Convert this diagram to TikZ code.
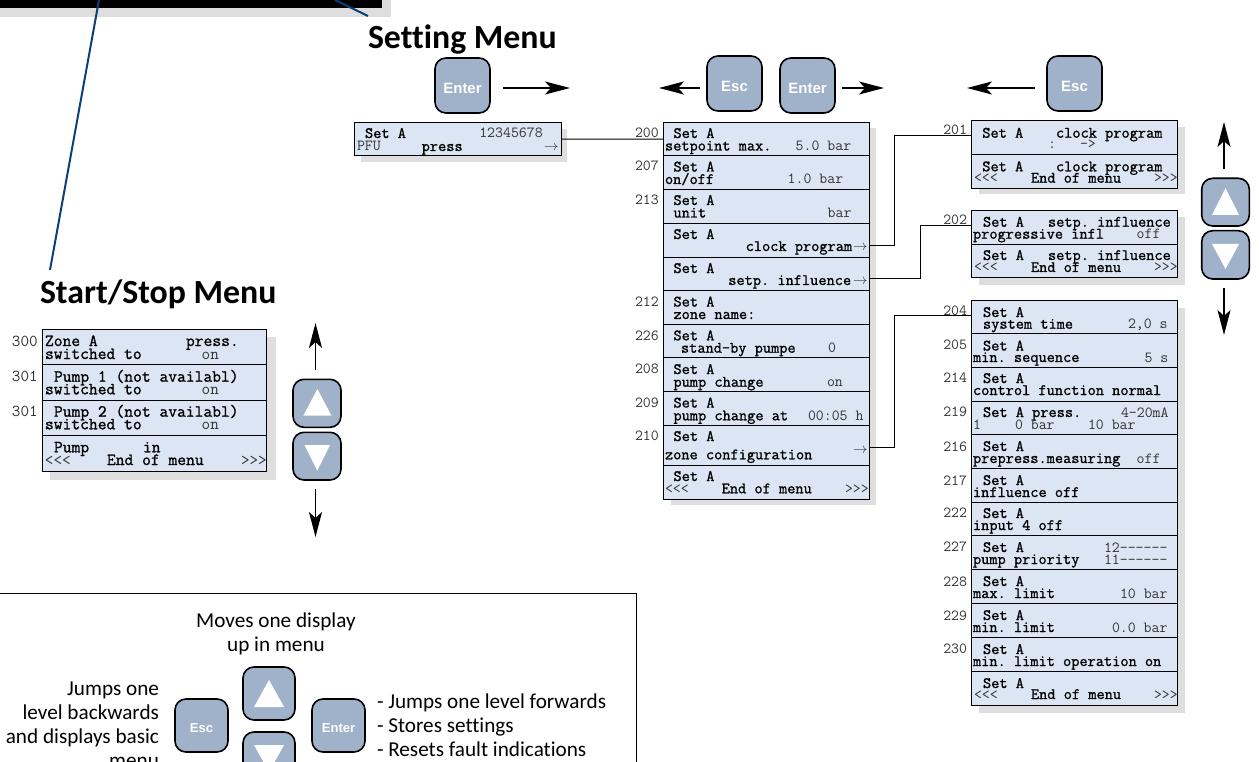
\documentclass[tikz,border=0pt]{standalone}
\usepackage{fontspec}
\usetikzlibrary{arrows.meta}
\newfontfamily\labfont[Ligatures=CommonOff]{Carlito}
\newfontfamily\keyfont{Liberation Sans}
\newfontfamily\monoheavy[FakeBold=1.1]{Latin Modern Mono}
\definecolor{cellfill}{HTML}{DCE5F3}
\definecolor{shadowc}{HTML}{DEDEDE}
\definecolor{keyfill}{HTML}{A0B1CA}
\definecolor{graytxt}{HTML}{333333}
\definecolor{bluel}{HTML}{0B3F77}
\newcounter{tc}
\tikzset{
  txt/.style={inner sep=0pt,outer sep=0pt,anchor=base west},
  monob/.style={txt,font=\fontsize{15.9}{15.9}\selectfont\monoheavy,text=black},
  monog/.style={txt,font=\fontsize{15.4}{15.4}\selectfont\ttfamily,text=graytxt},
  monobl/.style={txt,font=\fontsize{17.07}{17.07}\selectfont\monoheavy,text=black},
  monogl/.style={txt,font=\fontsize{16.7}{16.7}\selectfont\ttfamily,text=graytxt},
  arrowg/.style={txt,font=\fontsize{15}{15}\selectfont,text=graytxt},
  cell/.style={draw=black,line width=1pt,fill=cellfill,inner sep=0pt,outer sep=0pt,anchor=north west},
  shade/.style={fill=shadowc,draw=none},
  wire/.style={draw=black,line width=1pt},
  bigarrow/.style={draw=black,line width=1.9pt,-{Stealth[length=25pt,width=13pt,inset=6pt]}},
  keybox/.style={draw=black,line width=1.6pt,fill=keyfill,rounded corners=11pt,inner sep=0pt,outer sep=0pt,anchor=north west,text=white},
  keyfontbig/.style={font=\fontsize{15}{15}\selectfont\keyfont\bfseries},
  keyfontsmall/.style={font=\fontsize{13}{13}\selectfont\keyfont\bfseries},
  heading/.style={txt,font=\fontsize{33.8}{33.8}\selectfont\labfont\bfseries},
  lab/.style={inner sep=0pt,outer sep=0pt,font=\fontsize{21.2}{21.2}\selectfont\labfont},
}
\newcommand{\Cell}[5]{\node[cell,minimum width={(#4-#2)*1pt},minimum height={(#5-#3)*1pt}] (#1) at (#2,#3) {};}
\newcommand{\BT}[3]{\stepcounter{tc}\node[monob] (t\arabic{tc}) at ({#1},{#2+1}) {#3};}
\newcommand{\GT}[3]{\stepcounter{tc}\node[monog] (t\arabic{tc}) at ({#1},{#2+1}) {#3};}
\newcommand{\BL}[3]{\stepcounter{tc}\node[monobl] (t\arabic{tc}) at ({#1},{#2+1}) {#3};}
\newcommand{\GL}[3]{\stepcounter{tc}\node[monogl] (t\arabic{tc}) at ({#1},{#2+1}) {#3};}
\newcommand{\AR}[2]{\stepcounter{tc}\node[arrowg] (t\arabic{tc}) at (#1,#2) {$\rightarrow$};}
\newcommand{\Key}[7]{\node[keybox,#7,minimum width={(#4-#2)*1pt},minimum height={(#5-#3)*1pt}] (#1) at (#2,#3) {#6};}
\newcommand{\KT}[2]{\raisebox{#1}[0pt][0pt]{#2}}
\newcommand{\UpTri}[4]{\fill[white] (#1,#4) -- (#2,#4) -- ({(#1+#2)/2},#3) -- cycle;}
\newcommand{\DownTri}[4]{\fill[white] (#1,#3) -- (#2,#3) -- ({(#1+#2)/2},#4) -- cycle;}
\begin{document}
\begin{tikzpicture}[x=1pt,y=-1pt,every node/.append style={execute at begin node=\frenchspacing}]
\clip (0,0) rectangle (1259,762);
% top graphic
\fill[shadowc] (0,0) rectangle (391,17);
\fill[black] (0,0) rectangle (382,8);
\coordinate (ls) at (99,0); \coordinate (le) at (50,270);
\coordinate (ms) at (335,0); \coordinate (me) at (368,16);
\draw[bluel,line width=2pt] (ls) -- (le);
\draw[bluel,line width=2pt] (ms) -- (me);
% headings
\node[heading] (hset) at (368,48.5) {Setting Menu};
\node[heading] (hstart) at (40,303) {Start/Stop Menu};
% shadows
\fill[shade] (361,129) rectangle (567,162);
\fill[shade] (671,128) rectangle (876,505);
\fill[shade] (979,127) rectangle (1185,194);
\fill[shade] (979,217) rectangle (1185,285);
\fill[shade] (979,308) rectangle (1185,713);
\fill[shade] (50,337) rectangle (276,480);
% top box
\Cell{pfu}{354}{122.5}{561}{156}
\BT{365}{137}{Set A}\GT{479.3}{137}{12345678}
\GT{357}{150}{PFU}\BT{421.7}{150}{press}\AR{544}{151}
% main column
\Cell{m200}{663.5}{122.5}{869}{155.7}
\Cell{m207}{663.5}{155.7}{869}{189.7}
\Cell{m213}{663.5}{189.7}{869}{223.3}
\Cell{mclk}{663.5}{223.3}{869}{257.3}
\Cell{mset}{663.5}{257.3}{869}{290.7}
\Cell{m212}{663.5}{290.7}{869}{324.3}
\Cell{m226}{663.5}{324.3}{869}{357.3}
\Cell{m208}{663.5}{357.3}{869}{391}
\Cell{m209}{663.5}{391}{869}{425.7}
\Cell{m210}{663.5}{425.7}{869}{465.3}
\Cell{mend}{663.5}{465.3}{869}{499.3}
\BT{673.5}{137}{Set A}\BT{665}{149.5}{setpoint max.}\GT{795.7}{149.5}{5.0 bar}
\BT{673.5}{170.5}{Set A}\BT{665}{183}{on/off}\GT{787.7}{183}{1.0 bar}
\BT{673.5}{204}{Set A}\BT{673.5}{216.5}{unit}\GT{827.7}{216.5}{bar}
\BT{673.5}{238}{Set A}\BT{745.7}{250}{clock program}\AR{853}{251}
\BT{673.5}{272}{Set A}\BT{728.3}{284}{setp. influence}\AR{853}{285}
\BT{673.5}{305.5}{Set A}\BT{673.5}{318}{zone name:}
\BT{673.5}{339.3}{Set A}\BT{681}{351.7}{stand-by pumpe}\GT{828}{351.7}{0}
\BT{673.5}{373}{Set A}\BT{673.5}{385.7}{pump change}\GT{827}{385.7}{on}
\BT{673.5}{406.5}{Set A}\BT{673.5}{419.3}{pump change at}\GT{808}{419.3}{00:05 h}
\BT{673.5}{440}{Set A}\BT{665}{458.3}{zone configuration}\AR{853}{453}
\BT{673.5}{480}{Set A}\GT{665}{492.3}{<<<}\BT{721.7}{492.3}{End of menu}\GT{845}{492.3}{>>>}
\GT{635}{136.7}{200}\GT{635}{170}{207}\GT{635}{203.3}{213}\GT{635}{305}{212}
\GT{635}{339}{226}\GT{635}{372.7}{208}\GT{635}{406}{209}\GT{635}{439.3}{210}
% box 201
\Cell{c1}{971.5}{120.5}{1177.3}{154.3}
\Cell{c2}{971.5}{154.3}{1177.3}{188.3}
\BT{982.3}{136.7}{Set A}\BT{1056}{136.7}{clock program}
\GT{1048}{148}{:}\GT{1080}{148}{->}
\BT{982.3}{170.3}{Set A}\BT{1056}{170.3}{clock program}
\GT{974}{181.7}{<<<}\BT{1031}{181.7}{End of menu}\GT{1154}{181.7}{>>>}
\GT{943.3}{134}{201}
% box 202
\Cell{s1}{971.5}{210.3}{1177.3}{244.3}
\Cell{s2}{971.5}{244.3}{1177.3}{277.5}
\BT{983}{225.7}{Set A}\BT{1048}{225.7}{setp. influence}
\BT{973}{237.7}{progressive infl}\GT{1136.7}{237.7}{off}
\BT{983}{259}{Set A}\BT{1048}{259}{setp. influence}
\GT{974}{271}{<<<}\BT{1031}{271}{End of menu}\GT{1154}{271}{>>>}
\GT{943.3}{224}{202}
% box 204 ...
\Cell{z1}{971.5}{300.3}{1177.3}{333.7}
\Cell{z2}{971.5}{333.7}{1177.3}{367.3}
\Cell{z3}{971.5}{367.3}{1177.3}{401.7}
\Cell{z4}{971.5}{401.7}{1177.3}{434.7}
\Cell{z5}{971.5}{434.7}{1177.3}{468.7}
\Cell{z6}{971.5}{468.7}{1177.3}{502.3}
\Cell{z7}{971.5}{502.3}{1177.3}{535.3}
\Cell{z8}{971.5}{535.3}{1177.3}{569.3}
\Cell{z9}{971.5}{569.3}{1177.3}{603.3}
\Cell{z10}{971.5}{603.3}{1177.3}{637.3}
\Cell{z11}{971.5}{637.3}{1177.3}{671.3}
\Cell{z12}{971.5}{671.3}{1177.3}{705}
\BT{983}{316}{Set A}\BT{983}{327.7}{system time}\GT{1128}{327.7}{2,0 s}
\BT{983}{349.5}{Set A}\BT{973}{361}{min. sequence}\GT{1144.5}{361}{5 s}
\BT{983}{382}{Set A}\BT{973}{394}{control function normal}
\BT{983}{416}{Set A press.}\GT{1121}{416}{4-20mA}
\GT{973}{428}{1}\GT{1015}{428}{0 bar}\GT{1088}{428}{10 bar}
\BT{983}{450}{Set A}\BT{973}{462}{prepress.measuring}\GT{1136.7}{462}{off}
\BT{983}{484}{Set A}\BT{973}{496}{influence off}
\BT{983}{517}{Set A}\BT{973}{529}{input 4 off}
\BT{983}{551}{Set A}\BT{973}{563}{pump priority}\GT{1104}{551}{12------}\GT{1104}{563}{11------}
\BT{983}{585}{Set A}\BT{973}{597}{max. limit}\GT{1120}{597}{10 bar}
\BT{983}{619}{Set A}\BT{973}{631}{min. limit}\GT{1112}{631}{0.0 bar}
\BT{983}{653}{Set A}\BT{973}{665}{min. limit operation on}
\BT{983}{687}{Set A}\GT{974}{698}{<<<}\BT{1031}{698}{End of menu}\GT{1154}{698}{>>>}
\GT{943.3}{315}{204}\GT{943.3}{348.3}{205}\GT{943.3}{381.7}{214}\GT{943.3}{415}{219}
\GT{943.3}{450}{216}\GT{943.3}{484}{217}\GT{943.3}{516.7}{222}\GT{943.3}{550.7}{227}
\GT{943.3}{585}{228}\GT{943.3}{619}{229}\GT{943.3}{652.3}{230}
% start/stop box
\Cell{a1}{42.3}{329.3}{266.7}{364.3}
\Cell{a2}{42.3}{364.3}{266.7}{400.3}
\Cell{a3}{42.3}{400.3}{266.7}{435.7}
\Cell{a4}{42.3}{435.7}{266.7}{471.7}
\BL{45}{345}{Zone A}\BL{186}{345}{press.}
\BL{45}{358}{switched to}\GL{201.7}{358}{on}
\BL{54}{380.7}{Pump 1 (not availabl)}
\BL{45}{393.3}{switched to}\GL{201.7}{393.3}{on}
\BL{54}{415.7}{Pump 2 (not availabl)}
\BL{45}{428.3}{switched to}\GL{201.7}{428.3}{on}
\BL{54}{451.3}{Pump}\BL{143}{451.3}{in}
\GL{45}{464}{<<<}\BL{107}{464}{End of menu}\GL{241}{464}{>>>}
\GL{12}{345}{300}\GL{12}{380}{301}\GL{12}{415.7}{301}
% connectors
\draw[wire] (pfu.east) -- (m200.west);
\draw[wire] (mclk.east |- 0,246) -- (894,246) -- (894,136) -- (c1.west |- 0,136);
\draw[wire] (mset.east |- 0,279) -- (920,279) -- (920,226) -- (s1.west |- 0,226);
\draw[wire] (m210.east |- 0,447) -- (894,447) -- (894,315.5) -- (z1.west |- 0,315.5);
% keys
\Key{k1}{435}{58}{490}{113}{\KT{-8pt}{Enter}}{keyfontbig}
\Key{k2}{707}{56}{762}{111}{\KT{-8pt}{Esc}}{keyfontbig}
\Key{k3}{780}{58}{835}{113}{\KT{-8pt}{Enter}}{keyfontbig}
\Key{k4}{1047}{56}{1102}{111}{\KT{-8pt}{Esc}}{keyfontbig}
\coordinate (e1) at (570,88); \coordinate (e2) at (659,88); \coordinate (e3) at (884,88); \coordinate (e4) at (967,88);
\draw[bigarrow] (k1.east |- 0,88) ++(13,0) -- (e1);
\draw[bigarrow] (k2.west |- 0,88) ++(-7,0) -- (e2);
\draw[bigarrow] (k3.east |- 0,88) ++(7,0) -- (e3);
\draw[bigarrow] (k4.west |- 0,88) ++(-12,0) -- (e4);
% right up/down
\Key{ru}{1201.7}{178.3}{1249.3}{226}{}{keyfontbig}
\Key{rd}{1201.7}{230.7}{1249.3}{279}{}{keyfontbig}
\UpTri{1212}{1239}{188}{215}
\DownTri{1212}{1239}{244}{269}
\coordinate (eru) at (1224,122); \coordinate (erd) at (1224,335);
\draw[bigarrow] (eru |- ru.north) ++(0,-9) -- (eru);
\draw[bigarrow] (erd |- rd.south) ++(0,9) -- (erd);
% left up/down
\Key{lu}{293}{379.3}{341}{427.3}{}{keyfontbig}
\Key{ld}{293}{432.3}{341}{480}{}{keyfontbig}
\UpTri{303.3}{331.5}{389}{415.7}
\DownTri{304.5}{330}{445}{470.7}
\coordinate (elu) at (315.5,323); \coordinate (eld) at (315.5,537);
\draw[bigarrow] (elu |- lu.north) ++(0,-9) -- (elu);
\draw[bigarrow] (eld |- ld.south) ++(0,9) -- (eld);
% legend
\coordinate (lb0) at (-2,593); \coordinate (lb1) at (636,593); \coordinate (lb2) at (636,770);
\draw[black,line width=1pt] (lb0) -- (lb1) -- (lb2);
\Key{gu}{243}{667}{295}{720}{}{keyfontsmall}
\Key{gd}{243}{732}{295}{785}{}{keyfontsmall}
\Key{ge}{175}{699}{228}{752}{\KT{-6.5pt}{Esc}}{keyfontsmall}
\Key{gn}{312}{699}{365}{752}{\KT{-6.5pt}{Enter}}{keyfontsmall}
\UpTri{254}{284}{680}{707}
\DownTri{254}{284}{745}{772}
\node[lab,anchor=base] (l1) at (276,627.7) {Moves one display};
\node[lab,anchor=base] (l2) at (276,651.7) {up in menu};
\node[lab,anchor=base east] (l3) at (159,695.7) {Jumps one};
\node[lab,anchor=base east] (l4) at (159,719.7) {level backwards};
\node[lab,anchor=base east] (l5) at (159,743.7) {and displays basic};
\node[lab,anchor=base east] (l6) at (159,767.7) {menu};
\node[lab,anchor=base west] (l7) at (377,708.5) {- Jumps one level forwards};
\node[lab,anchor=base west] (l8) at (377,732.5) {- Stores settings};
\node[lab,anchor=base west] (l9) at (377,756.5) {- Resets fault indications};
\end{tikzpicture}
\end{document}
